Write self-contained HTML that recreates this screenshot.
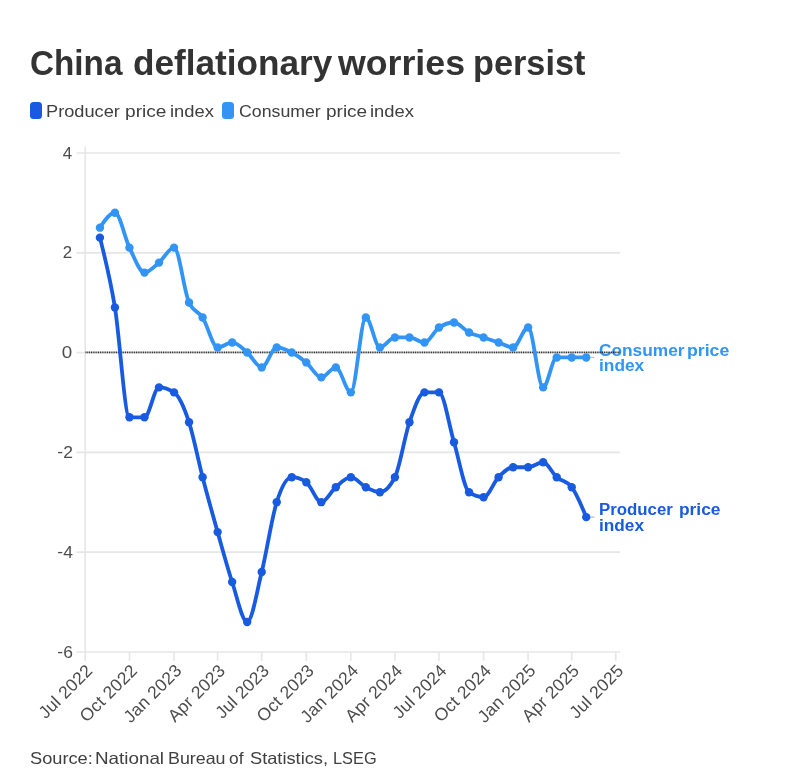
<!DOCTYPE html>
<html><head><meta charset="utf-8"><title>China deflationary worries persist</title>
<style>
html,body{margin:0;padding:0;background:#fff;}
body{width:786px;height:774px;position:relative;overflow:hidden;font-family:"Liberation Sans",sans-serif;}
.w{position:absolute;line-height:1;white-space:nowrap;transform-origin:0 0;}
.sw{position:absolute;top:102px;width:12px;height:17px;border-radius:3.5px;}
svg text.ax{font-family:"Liberation Sans",sans-serif;font-size:16.5px;fill:#4d4d4d;}
svg text.xl{font-size:17.5px;letter-spacing:0.2px}
</style></head><body>
<span class="sw" style="left:30px;background:#195be0"></span><span class="sw" style="left:222.4px;background:#3294f4"></span>
<svg width="786" height="774" viewBox="0 0 786 774" style="position:absolute;left:0;top:0">
<line x1="76.5" x2="620.2" y1="153.0" y2="153.0" stroke="#e6e6e6" stroke-width="1.7"/>
<text transform="translate(72.2,158.6) scale(1.02,1)" text-anchor="end" class="ax">4</text>
<line x1="76.5" x2="620.2" y1="252.8" y2="252.8" stroke="#e6e6e6" stroke-width="1.7"/>
<text transform="translate(72.2,258.4) scale(1.02,1)" text-anchor="end" class="ax">2</text>
<line x1="76.5" x2="620.2" y1="352.6" y2="352.6" stroke="#e6e6e6" stroke-width="1.7"/>
<text transform="translate(72.2,358.2) scale(1.14,1)" text-anchor="end" class="ax">0</text>
<line x1="76.5" x2="620.2" y1="452.4" y2="452.4" stroke="#e6e6e6" stroke-width="1.7"/>
<text transform="translate(72.9,458.1) scale(1.06,1)" text-anchor="end" class="ax"><tspan dy="-1.2">-</tspan><tspan dy="1.2">2</tspan></text>
<line x1="76.5" x2="620.2" y1="552.2" y2="552.2" stroke="#e6e6e6" stroke-width="1.7"/>
<text transform="translate(72.9,557.9) scale(1.06,1)" text-anchor="end" class="ax"><tspan dy="-1.2">-</tspan><tspan dy="1.2">4</tspan></text>
<line x1="76.5" x2="620.2" y1="652.0" y2="652.0" stroke="#e6e6e6" stroke-width="1.7"/>
<text transform="translate(72.9,657.7) scale(1.06,1)" text-anchor="end" class="ax"><tspan dy="-1.2">-</tspan><tspan dy="1.2">6</tspan></text>
<line x1="85.2" x2="85.2" y1="146.4" y2="660.8" stroke="#e6e6e6" stroke-width="1.6"/>
<text transform="translate(93.6,671.6) rotate(-45)" text-anchor="end" class="ax xl">Jul 2022</text>
<line x1="129.5" x2="129.5" y1="651.9" y2="660.8" stroke="#e6e6e6" stroke-width="1.6"/>
<text transform="translate(138.2,671.6) rotate(-45)" text-anchor="end" class="ax xl">Oct 2022</text>
<line x1="174.0" x2="174.0" y1="651.9" y2="660.8" stroke="#e6e6e6" stroke-width="1.6"/>
<text transform="translate(182.7,671.6) rotate(-45)" text-anchor="end" class="ax xl">Jan 2023</text>
<line x1="217.6" x2="217.6" y1="651.9" y2="660.8" stroke="#e6e6e6" stroke-width="1.6"/>
<text transform="translate(226.3,671.6) rotate(-45)" text-anchor="end" class="ax xl">Apr 2023</text>
<line x1="261.7" x2="261.7" y1="651.9" y2="660.8" stroke="#e6e6e6" stroke-width="1.6"/>
<text transform="translate(270.4,671.6) rotate(-45)" text-anchor="end" class="ax xl">Jul 2023</text>
<line x1="306.3" x2="306.3" y1="651.9" y2="660.8" stroke="#e6e6e6" stroke-width="1.6"/>
<text transform="translate(315.0,671.6) rotate(-45)" text-anchor="end" class="ax xl">Oct 2023</text>
<line x1="350.8" x2="350.8" y1="651.9" y2="660.8" stroke="#e6e6e6" stroke-width="1.6"/>
<text transform="translate(359.5,671.6) rotate(-45)" text-anchor="end" class="ax xl">Jan 2024</text>
<line x1="394.9" x2="394.9" y1="651.9" y2="660.8" stroke="#e6e6e6" stroke-width="1.6"/>
<text transform="translate(403.6,671.6) rotate(-45)" text-anchor="end" class="ax xl">Apr 2024</text>
<line x1="439.0" x2="439.0" y1="651.9" y2="660.8" stroke="#e6e6e6" stroke-width="1.6"/>
<text transform="translate(447.7,671.6) rotate(-45)" text-anchor="end" class="ax xl">Jul 2024</text>
<line x1="483.6" x2="483.6" y1="651.9" y2="660.8" stroke="#e6e6e6" stroke-width="1.6"/>
<text transform="translate(492.3,671.6) rotate(-45)" text-anchor="end" class="ax xl">Oct 2024</text>
<line x1="528.1" x2="528.1" y1="651.9" y2="660.8" stroke="#e6e6e6" stroke-width="1.6"/>
<text transform="translate(536.8,671.6) rotate(-45)" text-anchor="end" class="ax xl">Jan 2025</text>
<line x1="571.7" x2="571.7" y1="651.9" y2="660.8" stroke="#e6e6e6" stroke-width="1.6"/>
<text transform="translate(580.4,671.6) rotate(-45)" text-anchor="end" class="ax xl">Apr 2025</text>
<line x1="615.8" x2="615.8" y1="651.9" y2="660.8" stroke="#e6e6e6" stroke-width="1.6"/>
<text transform="translate(624.5,671.6) rotate(-45)" text-anchor="end" class="ax xl">Jul 2025</text>
</svg>
<span class="w" style="left:30.14px;top:45.80px;font-size:34.5px;font-weight:700;color:#333;letter-spacing:0.00px;transform:scaleX(0.9642)">China</span>
<span class="w" style="left:133.01px;top:45.80px;font-size:34.5px;font-weight:700;color:#333;letter-spacing:0.00px;transform:scaleX(1.0193)">deflationary</span>
<span class="w" style="left:338.27px;top:45.80px;font-size:34.5px;font-weight:700;color:#333;letter-spacing:0.00px;transform:scaleX(1.0348)">worries</span>
<span class="w" style="left:473.05px;top:45.80px;font-size:34.5px;font-weight:700;color:#333;letter-spacing:0.00px;transform:scaleX(0.9934)">persist</span>
<span class="w" style="left:45.80px;top:103.01px;font-size:17px;font-weight:400;color:#404040;letter-spacing:0.00px;transform:scaleX(1.0717)">Producer</span>
<span class="w" style="left:124.93px;top:103.01px;font-size:17px;font-weight:400;color:#404040;letter-spacing:0.00px;transform:scaleX(1.1251)">price</span>
<span class="w" style="left:169.51px;top:103.01px;font-size:17px;font-weight:400;color:#404040;letter-spacing:0.00px;transform:scaleX(1.0807)">index</span>
<span class="w" style="left:238.77px;top:103.01px;font-size:17px;font-weight:400;color:#404040;letter-spacing:0.00px;transform:scaleX(1.0427)">Consumer</span>
<span class="w" style="left:325.98px;top:103.01px;font-size:17px;font-weight:400;color:#404040;letter-spacing:0.00px;transform:scaleX(1.1173)">price</span>
<span class="w" style="left:370.36px;top:103.01px;font-size:17px;font-weight:400;color:#404040;letter-spacing:0.00px;transform:scaleX(1.0817)">index</span>
<span class="w" style="left:29.83px;top:749.53px;font-size:16.5px;font-weight:400;color:#404040;letter-spacing:0.00px;transform:scaleX(1.1048)">Source:</span>
<span class="w" style="left:94.97px;top:749.53px;font-size:16.5px;font-weight:400;color:#404040;letter-spacing:0.00px;transform:scaleX(1.1407)">National</span>
<span class="w" style="left:167.67px;top:749.53px;font-size:16.5px;font-weight:400;color:#404040;letter-spacing:0.00px;transform:scaleX(1.0812)">Bureau</span>
<span class="w" style="left:229.48px;top:749.53px;font-size:16.5px;font-weight:400;color:#404040;letter-spacing:0.00px;transform:scaleX(1.0519)">of</span>
<span class="w" style="left:249.79px;top:749.53px;font-size:16.5px;font-weight:400;color:#404040;letter-spacing:0.00px;transform:scaleX(1.1050)">Statistics,</span>
<span class="w" style="left:333.27px;top:749.53px;font-size:16.5px;font-weight:400;color:#404040;letter-spacing:0.00px;transform:scaleX(0.9903)">LSEG</span>
<span class="w" style="left:598.80px;top:342.59px;font-size:15.6px;font-weight:700;color:#3294f4;letter-spacing:0.00px;transform:scaleX(1.1085)">Consumer</span>
<span class="w" style="left:687.03px;top:342.59px;font-size:15.6px;font-weight:700;color:#3294f4;letter-spacing:0.00px;transform:scaleX(1.1321)">price</span>
<span class="w" style="left:598.97px;top:357.79px;font-size:15.6px;font-weight:700;color:#3294f4;letter-spacing:0.00px;transform:scaleX(1.1096)">index</span>
<span class="w" style="left:598.98px;top:501.99px;font-size:15.6px;font-weight:700;color:#195be0;letter-spacing:0.00px;transform:scaleX(1.0785)">Producer</span>
<span class="w" style="left:678.69px;top:501.99px;font-size:15.6px;font-weight:700;color:#195be0;letter-spacing:0.00px;transform:scaleX(1.1142)">price</span>
<span class="w" style="left:599.33px;top:517.69px;font-size:15.6px;font-weight:700;color:#195be0;letter-spacing:0.00px;transform:scaleX(1.1050)">index</span>
<svg width="786" height="774" viewBox="0 0 786 774" style="position:absolute;left:0;top:0"><line x1="85.5" x2="620" y1="352.35" y2="352.35" stroke="#222" stroke-width="1.7" stroke-dasharray="1,0.8"/></svg>
<svg width="786" height="774" viewBox="0 0 786 774" style="position:absolute;left:0;top:0">
<path d="M99.92,237.65C104.92,257.25,109.93,276.85,114.93,307.52C119.78,337.21,124.62,417.32,129.46,417.32C134.47,417.32,139.48,417.32,144.48,417.32C149.33,417.32,154.17,387.38,159.01,387.38C164.02,387.38,169.02,389.04,174.03,392.37C179.04,395.70,184.04,406.93,189.05,422.31C193.57,436.21,198.09,459.76,202.61,477.21C207.61,496.55,212.62,514.38,217.63,532.12C222.47,549.28,227.31,567.24,232.16,582.03C237.16,597.31,242.17,621.95,247.17,621.95C252.02,621.95,256.86,591.58,261.71,572.04C266.71,551.85,271.72,517.97,276.72,502.17C281.73,486.37,286.73,477.21,291.74,477.21C296.58,477.21,301.43,478.88,306.27,482.21C311.28,485.64,316.28,502.17,321.29,502.17C326.13,502.17,330.98,491.32,335.82,487.20C340.82,482.94,345.83,477.21,350.84,477.21C355.84,477.21,360.85,484.67,365.85,487.20C370.53,489.56,375.22,492.19,379.90,492.19C384.91,492.19,389.91,487.20,394.92,477.21C399.76,467.56,404.60,436.36,409.45,422.31C414.45,407.79,419.46,392.37,424.46,392.37C429.31,392.37,434.15,392.37,439.00,392.37C444.00,392.37,449.01,425.64,454.01,442.28C459.02,458.91,464.02,488.75,469.03,492.19C473.87,495.52,478.72,497.18,483.56,497.18C488.57,497.18,493.57,482.24,498.58,477.21C503.42,472.36,508.27,467.23,513.11,467.23C518.12,467.23,523.12,467.23,528.13,467.23C533.13,467.23,538.14,462.24,543.14,462.24C547.66,462.24,552.18,473.17,556.71,477.21C561.71,481.70,566.72,480.54,571.72,487.20C576.57,493.64,581.41,505.39,586.25,517.14" fill="none" stroke="#195be0" stroke-width="3.8" stroke-linejoin="round" stroke-linecap="round"/>
<circle cx="99.92" cy="237.65" r="4.2" fill="#195be0"/>
<circle cx="114.93" cy="307.52" r="4.2" fill="#195be0"/>
<circle cx="129.46" cy="417.32" r="4.2" fill="#195be0"/>
<circle cx="144.48" cy="417.32" r="4.2" fill="#195be0"/>
<circle cx="159.01" cy="387.38" r="4.2" fill="#195be0"/>
<circle cx="174.03" cy="392.37" r="4.2" fill="#195be0"/>
<circle cx="189.05" cy="422.31" r="4.2" fill="#195be0"/>
<circle cx="202.61" cy="477.21" r="4.2" fill="#195be0"/>
<circle cx="217.63" cy="532.12" r="4.2" fill="#195be0"/>
<circle cx="232.16" cy="582.03" r="4.2" fill="#195be0"/>
<circle cx="247.17" cy="621.95" r="4.2" fill="#195be0"/>
<circle cx="261.71" cy="572.04" r="4.2" fill="#195be0"/>
<circle cx="276.72" cy="502.17" r="4.2" fill="#195be0"/>
<circle cx="291.74" cy="477.21" r="4.2" fill="#195be0"/>
<circle cx="306.27" cy="482.21" r="4.2" fill="#195be0"/>
<circle cx="321.29" cy="502.17" r="4.2" fill="#195be0"/>
<circle cx="335.82" cy="487.20" r="4.2" fill="#195be0"/>
<circle cx="350.84" cy="477.21" r="4.2" fill="#195be0"/>
<circle cx="365.85" cy="487.20" r="4.2" fill="#195be0"/>
<circle cx="379.90" cy="492.19" r="4.2" fill="#195be0"/>
<circle cx="394.92" cy="477.21" r="4.2" fill="#195be0"/>
<circle cx="409.45" cy="422.31" r="4.2" fill="#195be0"/>
<circle cx="424.46" cy="392.37" r="4.2" fill="#195be0"/>
<circle cx="439.00" cy="392.37" r="4.2" fill="#195be0"/>
<circle cx="454.01" cy="442.28" r="4.2" fill="#195be0"/>
<circle cx="469.03" cy="492.19" r="4.2" fill="#195be0"/>
<circle cx="483.56" cy="497.18" r="4.2" fill="#195be0"/>
<circle cx="498.58" cy="477.21" r="4.2" fill="#195be0"/>
<circle cx="513.11" cy="467.23" r="4.2" fill="#195be0"/>
<circle cx="528.13" cy="467.23" r="4.2" fill="#195be0"/>
<circle cx="543.14" cy="462.24" r="4.2" fill="#195be0"/>
<circle cx="556.71" cy="477.21" r="4.2" fill="#195be0"/>
<circle cx="571.72" cy="487.20" r="4.2" fill="#195be0"/>
<circle cx="586.25" cy="517.14" r="4.2" fill="#195be0"/>
<path d="M99.92,227.67C104.92,220.18,109.93,212.69,114.93,212.69C119.78,212.69,124.62,237.75,129.46,247.63C134.47,257.84,139.48,272.58,144.48,272.58C149.33,272.58,154.17,266.67,159.01,262.60C164.02,258.40,169.02,247.63,174.03,247.63C179.04,247.63,184.04,291.48,189.05,302.53C193.57,312.51,198.09,310.60,202.61,317.50C207.61,325.14,212.62,347.45,217.63,347.45C222.47,347.45,227.31,342.46,232.16,342.46C237.16,342.46,242.17,348.18,247.17,352.44C252.02,356.56,256.86,367.41,261.71,367.41C266.71,367.41,271.72,347.45,276.72,347.45C281.73,347.45,286.73,349.87,291.74,352.44C296.58,354.92,301.43,358.36,306.27,362.42C311.28,366.62,316.28,377.39,321.29,377.39C326.13,377.39,330.98,367.41,335.82,367.41C340.82,367.41,345.83,392.37,350.84,392.37C355.84,392.37,360.85,317.50,365.85,317.50C370.53,317.50,375.22,347.45,379.90,347.45C384.91,347.45,389.91,337.47,394.92,337.47C399.76,337.47,404.60,337.47,409.45,337.47C414.45,337.47,419.46,342.46,424.46,342.46C429.31,342.46,434.15,330.71,439.00,327.49C444.00,324.16,449.01,322.49,454.01,322.49C459.02,322.49,464.02,329.97,469.03,332.48C473.87,334.91,478.72,335.83,483.56,337.47C488.57,339.16,493.57,340.77,498.58,342.46C503.42,344.10,508.27,347.45,513.11,347.45C518.12,347.45,523.12,327.49,528.13,327.49C533.13,327.49,538.14,387.38,543.14,387.38C547.66,387.38,552.18,357.43,556.71,357.43C561.71,357.43,566.72,357.43,571.72,357.43C576.57,357.43,581.41,357.43,586.25,357.43" fill="none" stroke="#3294f4" stroke-width="3.8" stroke-linejoin="round" stroke-linecap="round"/>
<circle cx="99.92" cy="227.67" r="4.2" fill="#3294f4"/>
<circle cx="114.93" cy="212.69" r="4.2" fill="#3294f4"/>
<circle cx="129.46" cy="247.63" r="4.2" fill="#3294f4"/>
<circle cx="144.48" cy="272.58" r="4.2" fill="#3294f4"/>
<circle cx="159.01" cy="262.60" r="4.2" fill="#3294f4"/>
<circle cx="174.03" cy="247.63" r="4.2" fill="#3294f4"/>
<circle cx="189.05" cy="302.53" r="4.2" fill="#3294f4"/>
<circle cx="202.61" cy="317.50" r="4.2" fill="#3294f4"/>
<circle cx="217.63" cy="347.45" r="4.2" fill="#3294f4"/>
<circle cx="232.16" cy="342.46" r="4.2" fill="#3294f4"/>
<circle cx="247.17" cy="352.44" r="4.2" fill="#3294f4"/>
<circle cx="261.71" cy="367.41" r="4.2" fill="#3294f4"/>
<circle cx="276.72" cy="347.45" r="4.2" fill="#3294f4"/>
<circle cx="291.74" cy="352.44" r="4.2" fill="#3294f4"/>
<circle cx="306.27" cy="362.42" r="4.2" fill="#3294f4"/>
<circle cx="321.29" cy="377.39" r="4.2" fill="#3294f4"/>
<circle cx="335.82" cy="367.41" r="4.2" fill="#3294f4"/>
<circle cx="350.84" cy="392.37" r="4.2" fill="#3294f4"/>
<circle cx="365.85" cy="317.50" r="4.2" fill="#3294f4"/>
<circle cx="379.90" cy="347.45" r="4.2" fill="#3294f4"/>
<circle cx="394.92" cy="337.47" r="4.2" fill="#3294f4"/>
<circle cx="409.45" cy="337.47" r="4.2" fill="#3294f4"/>
<circle cx="424.46" cy="342.46" r="4.2" fill="#3294f4"/>
<circle cx="439.00" cy="327.49" r="4.2" fill="#3294f4"/>
<circle cx="454.01" cy="322.49" r="4.2" fill="#3294f4"/>
<circle cx="469.03" cy="332.48" r="4.2" fill="#3294f4"/>
<circle cx="483.56" cy="337.47" r="4.2" fill="#3294f4"/>
<circle cx="498.58" cy="342.46" r="4.2" fill="#3294f4"/>
<circle cx="513.11" cy="347.45" r="4.2" fill="#3294f4"/>
<circle cx="528.13" cy="327.49" r="4.2" fill="#3294f4"/>
<circle cx="543.14" cy="387.38" r="4.2" fill="#3294f4"/>
<circle cx="556.71" cy="357.43" r="4.2" fill="#3294f4"/>
<circle cx="571.72" cy="357.43" r="4.2" fill="#3294f4"/>
<circle cx="586.25" cy="357.43" r="4.2" fill="#3294f4"/>
<line x1="590.5" x2="594.5" y1="357.4" y2="357.4" stroke="#9aa" stroke-width="0.8"/>
<line x1="590.5" x2="594.5" y1="517.1" y2="517.1" stroke="#99a" stroke-width="0.8"/>
</svg>
</body></html>
